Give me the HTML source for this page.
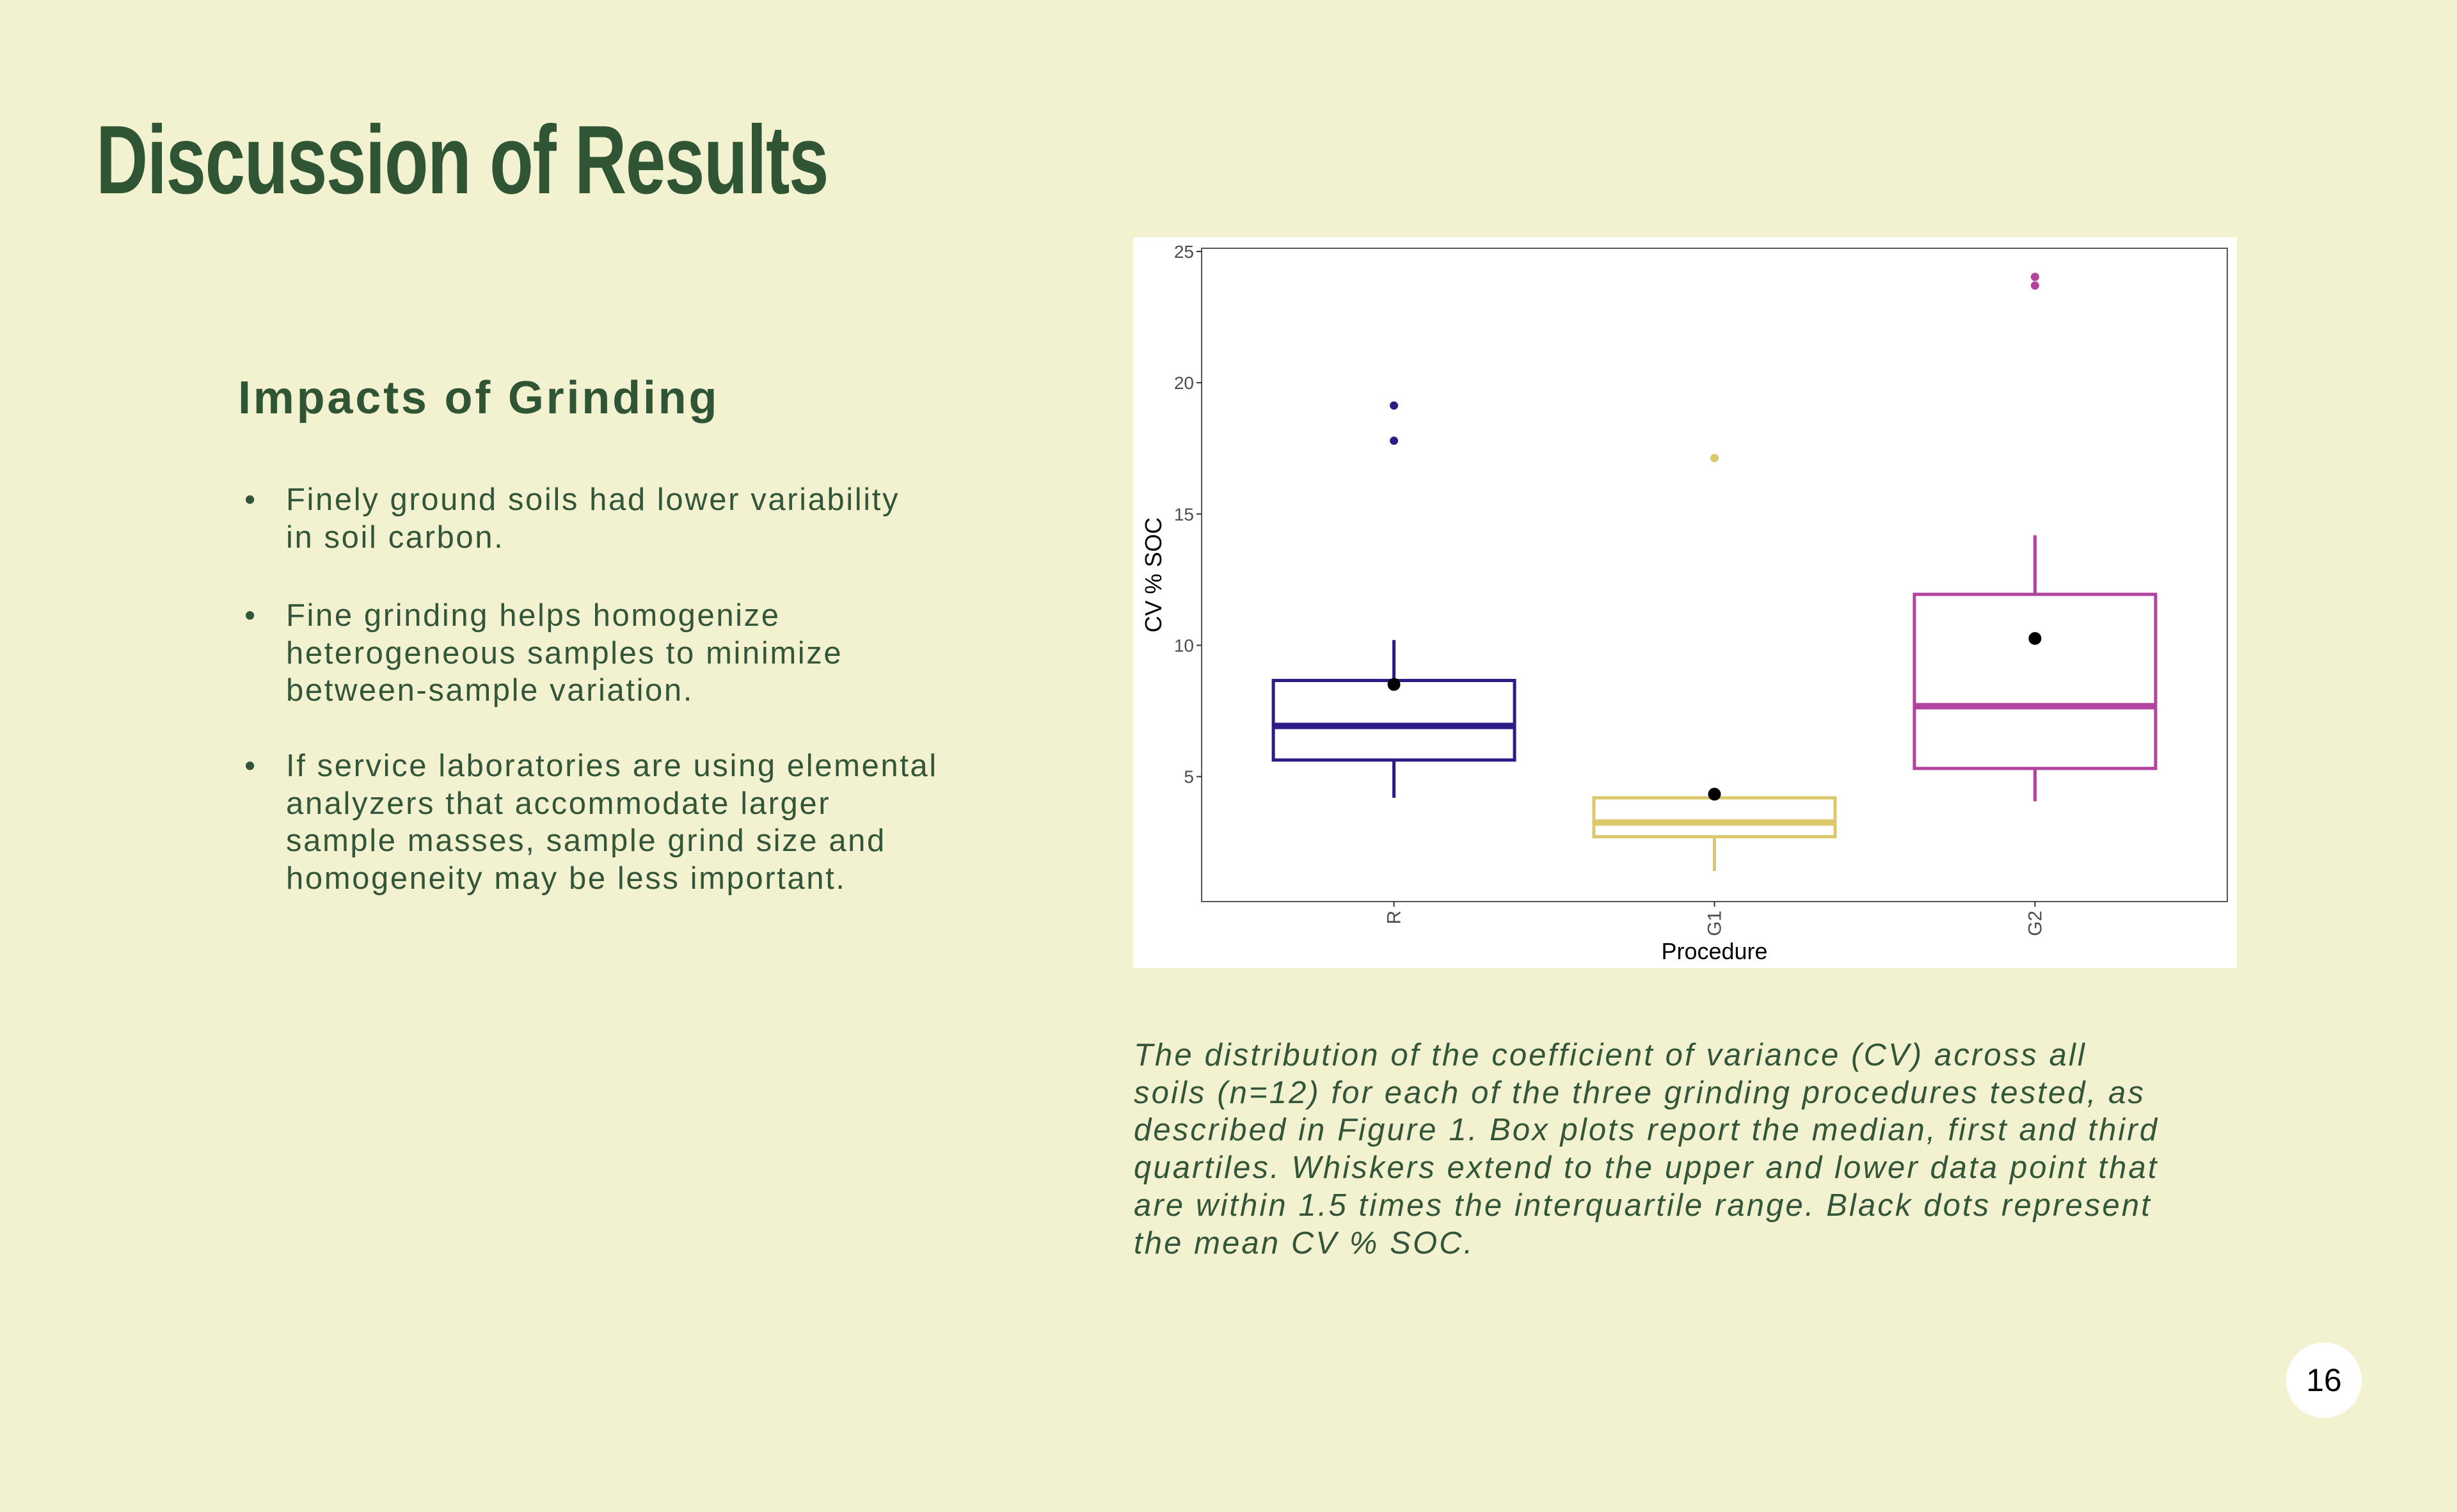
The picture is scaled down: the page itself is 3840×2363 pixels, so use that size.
<!DOCTYPE html>
<html><head><meta charset="utf-8"><style>
html,body{margin:0;padding:0}
body{width:3840px;height:2363px;background:#f2f2d0;position:relative;overflow:hidden;font-family:"Liberation Sans",sans-serif;color:#33553a}
.t{position:absolute;white-space:nowrap}
#title{left:150px;top:165px;font-family:"Liberation Sans Narrow","Liberation Sans",sans-serif;font-weight:bold;font-size:152px;line-height:170px;color:#2f5535;letter-spacing:-2px;transform:scaleX(0.74);transform-origin:0 0}
#sub{left:372px;top:580px;font-weight:bold;font-size:72px;line-height:84px;color:#2f5535;letter-spacing:3.8px}
.b{position:absolute;left:382px;font-size:49px;line-height:58.5px;white-space:nowrap;letter-spacing:2.6px}
.b span.d{position:absolute;left:0}
.b div{margin-left:65px}
#cap{left:1772px;top:1620px;font-style:italic;font-size:49px;line-height:58.7px;letter-spacing:3.1px}
#pg{left:3573px;top:2098px;width:118px;height:118px;border-radius:50%;background:#fff;color:#000;font-size:50px;line-height:118px;text-align:center}
</style></head><body>
<div class="t" id="title">Discussion of Results</div>
<div class="t" id="sub">Impacts of Grinding</div>
<div class="b" style="top:752px"><span class="d">•</span><div>Finely ground soils had lower variability<br>in soil carbon.</div></div>
<div class="b" style="top:933px"><span class="d">•</span><div>Fine grinding helps homogenize<br>heterogeneous samples to minimize<br>between-sample variation.</div></div>
<div class="b" style="top:1168px"><span class="d">•</span><div>If service laboratories are using elemental<br>analyzers that accommodate larger<br>sample masses, sample grind size and<br>homogeneity may be less important.</div></div>
<div class="t" id="cap">The distribution of the coefficient of variance (CV) across all<br>soils (n=12) for each of the three grinding procedures tested, as<br>described in Figure 1. Box plots report the median, first and third<br>quartiles. Whiskers extend to the upper and lower data point that<br>are within 1.5 times the interquartile range. Black dots represent<br>the mean CV % SOC.</div>
<div class="t" id="pg">16</div>
<svg id="chart" width="3840" height="2363" style="position:absolute;left:0;top:0"></svg>
<script>
const categories=["R","G1","G2"];
const whiskerLow=[4.19,1.40,4.06];
const q1=[5.63,2.71,5.31];
const median=[6.93,3.25,7.68];
const q3=[8.66,4.19,11.94];
const whiskerHigh=[10.2,4.19,14.19];
const means=[8.51,4.33,10.26];
const outliers=[[19.13,17.79],[17.13],[24.03,23.70]];
const yTicks=[5,10,15,20,25];
const colors=["#2e1b86","#dcc86b","#b0449e"];
const NS="http://www.w3.org/2000/svg";
const svg=document.getElementById('chart');
const P={l:1878,r:3481,t:388,b:1409};
const yMin=0.24,yMax=25.12;
function y(v){return P.b-(v-yMin)/(yMax-yMin)*(P.b-P.t);}
function x(i){const step=(P.r-P.l)/(categories.length-1+1.2);return P.l+(i+0.6)*step;}
function mk(tag,attrs){const e=document.createElementNS(NS,tag);for(const k in attrs)e.setAttribute(k,attrs[k]);svg.appendChild(e);return e;}
let bg=mk('rect',{x:1771,y:371,width:1725,height:1142,fill:'#fff'});


let panel=mk('rect',{x:P.l,y:P.t,width:P.r-P.l,height:P.b-P.t,fill:'none',stroke:'#555',"stroke-width":2});


yTicks.forEach(v=>{
  let tk=mk('line',{x1:P.l-8,x2:P.l,y1:y(v),y2:y(v),stroke:'#333',"stroke-width":2});
  
  
  let t=mk('text',{x:P.l-12,y:y(v)+10,"text-anchor":"end","font-size":28,fill:'#4d4d4d',"font-family":"Liberation Sans Narrow, Liberation Sans, sans-serif"});
  t.textContent=v;
  
  
});
const bw=377;
categories.forEach((c,i)=>{
  const cx=x(i),col=colors[i];
  let g=mk('g',{});
  
  
  const add=(tag,a)=>{const e=document.createElementNS(NS,tag);for(const k in a)e.setAttribute(k,a[k]);g.appendChild(e);return e;};
  add('line',{x1:cx,x2:cx,y1:y(q3[i]),y2:y(whiskerHigh[i]),stroke:col,"stroke-width":5});
  add('line',{x1:cx,x2:cx,y1:y(q1[i]),y2:y(whiskerLow[i]),stroke:col,"stroke-width":5});
  add('rect',{x:cx-bw/2,y:y(q3[i]),width:bw,height:y(q1[i])-y(q3[i]),fill:'#fff',stroke:col,"stroke-width":5});
  add('line',{x1:cx-bw/2,x2:cx+bw/2,y1:y(median[i]),y2:y(median[i]),stroke:col,"stroke-width":10});
  outliers[i].forEach(o=>add('circle',{cx:cx,cy:y(o),r:6.5,fill:col}));
  add('circle',{cx:cx,cy:y(means[i]),r:10,fill:'#000'});
  let tk=mk('line',{x1:cx,x2:cx,y1:P.b,y2:P.b+8,stroke:'#333',"stroke-width":2});
  
  
  let t=mk('text',{x:0,y:0,"text-anchor":"end","font-size":30,fill:'#4d4d4d',transform:`translate(${cx+10},${P.b+14}) rotate(-90)`});
  t.textContent=c;
  
  
});
let yt=mk('text',{x:0,y:0,"text-anchor":"middle","font-size":36,fill:'#000',transform:`translate(1815,${(P.t+P.b)/2}) rotate(-90)`});
yt.textContent="CV % SOC";


let xt=mk('text',{x:(P.l+P.r)/2,y:1499,"text-anchor":"middle","font-size":36,fill:'#000'});
xt.textContent="Procedure";


</script>
</body></html>
